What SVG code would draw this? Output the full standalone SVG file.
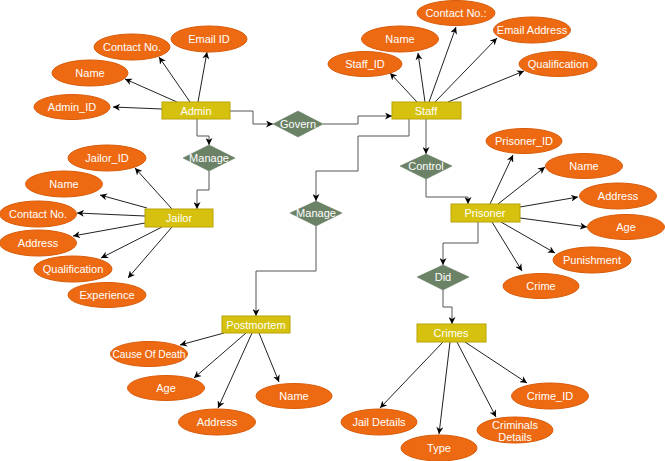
<svg xmlns="http://www.w3.org/2000/svg" width="665" height="461" viewBox="0 0 665 461">
<defs>
<marker id="ah" viewBox="0 0 10 10" refX="10" refY="5" markerWidth="7" markerHeight="7" orient="auto-start-reverse" markerUnits="userSpaceOnUse">
<path d="M0,0 L10,5 L0,10 L3,5 z" fill="#000"/>
</marker>
<style>
.e{fill:#EE6A12;stroke:#D85A08;stroke-width:1}
.r{fill:#D6C20E;stroke:#B9A406;stroke-width:1}
.d{fill:#6C8266;stroke:#5E7458;stroke-width:0.5}
.t{font-family:"Liberation Sans",Arial,sans-serif;font-size:11px;fill:#fff;text-anchor:middle;dominant-baseline:central}
.c line{stroke:#222;stroke-width:1;fill:none;marker-end:url(#ah)}
.c path{stroke:#555;stroke-width:1;fill:none;marker-end:url(#ah)}
</style>
</defs>
<rect width="665" height="461" fill="#fff"/>
<g class="c" id="connectors">
<line x1="162" y1="109" x2="113" y2="107"/>
<line x1="177" y1="102" x2="125" y2="79"/>
<line x1="190" y1="102" x2="159" y2="57"/>
<line x1="198" y1="102" x2="207" y2="52"/>
<path d="M230,111 H253 V124 H273"/>
<path d="M323,124 H358 V116 H392"/>
<path d="M197,119 V136 H209 V145"/>
<path d="M209,171 V190 H197 V209"/>
<line x1="417" y1="102" x2="390" y2="73"/>
<line x1="425" y1="102" x2="418" y2="53"/>
<line x1="429" y1="102" x2="456" y2="27"/>
<line x1="435" y1="102" x2="497" y2="38"/>
<line x1="448" y1="102" x2="524" y2="71"/>
<path d="M426,119 V154"/>
<path d="M409,119 V136 H358 V171 H316 V201"/>
<path d="M426,179 V197 H468 V204"/>
<path d="M316,226 V271 H256 V316"/>
<line x1="172" y1="209" x2="135" y2="168"/>
<line x1="147" y1="208" x2="100" y2="195"/>
<line x1="145" y1="216" x2="77" y2="213"/>
<line x1="145" y1="223" x2="73" y2="236"/>
<line x1="162" y1="227" x2="101" y2="258"/>
<line x1="172" y1="227" x2="128" y2="278"/>
<line x1="490" y1="204" x2="513" y2="155"/>
<line x1="498" y1="204" x2="545" y2="167"/>
<line x1="520" y1="207" x2="578" y2="197"/>
<line x1="520" y1="218" x2="587" y2="227"/>
<line x1="501" y1="222" x2="555" y2="253"/>
<line x1="492" y1="222" x2="522" y2="271"/>
<path d="M478,222 V243 H443 V265"/>
<path d="M443,290 V307 H452 V324"/>
<line x1="443" y1="342" x2="380" y2="408"/>
<line x1="450" y1="342" x2="439" y2="434"/>
<line x1="457" y1="342" x2="496" y2="417"/>
<line x1="465" y1="342" x2="527" y2="383"/>
<line x1="224" y1="333" x2="180" y2="345"/>
<line x1="246" y1="333" x2="194" y2="378"/>
<line x1="252" y1="333" x2="218" y2="408"/>
<line x1="259" y1="333" x2="279" y2="382"/>
</g>
<g id="admin"><rect class="r" x="162" y="102" width="68" height="17"/><text class="t" x="196" y="111">Admin</text></g>
<g id="admin_email"><ellipse class="e" cx="209" cy="39" rx="38" ry="13"/><text class="t" x="209" y="39">Email ID</text></g>
<g id="admin_contact"><ellipse class="e" cx="132" cy="47" rx="38" ry="13"/><text class="t" x="132" y="47">Contact No.</text></g>
<g id="admin_name"><ellipse class="e" cx="90" cy="73" rx="38" ry="13"/><text class="t" x="90" y="73">Name</text></g>
<g id="admin_id"><ellipse class="e" cx="72" cy="107" rx="38" ry="12.5"/><text class="t" x="72" y="107">Admin_ID</text></g>
<g id="govern"><polygon class="d" points="273,124 298,111 323,124 298,137"/><text class="t" x="298" y="124">Govern</text></g>
<g id="staff"><rect class="r" x="392" y="102" width="69" height="17"/><text class="t" x="426" y="111">Staff</text></g>
<g id="staff_contact"><ellipse class="e" cx="456" cy="13" rx="39" ry="12.5"/><text class="t" x="456" y="13">Contact No.:</text></g>
<g id="staff_name"><ellipse class="e" cx="400" cy="39" rx="38.5" ry="13"/><text class="t" x="400" y="39">Name</text></g>
<g id="staff_id"><ellipse class="e" cx="365" cy="64" rx="37" ry="12.5"/><text class="t" x="365" y="64">Staff_ID</text></g>
<g id="staff_email"><ellipse class="e" cx="532" cy="30" rx="38.5" ry="13"/><text class="t" x="532" y="30">Email Address</text></g>
<g id="staff_qual"><ellipse class="e" cx="558" cy="64" rx="39" ry="12.5"/><text class="t" x="558" y="64">Qualification</text></g>
<g id="manage1"><polygon class="d" points="183,158 209,145 235,158 209,171"/><text class="t" x="209" y="158">Manage</text></g>
<g id="jailor"><rect class="r" x="145" y="209" width="68" height="18"/><text class="t" x="179" y="218">Jailor</text></g>
<g id="jailor_id"><ellipse class="e" cx="107" cy="158" rx="39" ry="13"/><text class="t" x="107" y="158">Jailor_ID</text></g>
<g id="jailor_name"><ellipse class="e" cx="64" cy="184" rx="38.5" ry="13"/><text class="t" x="64" y="184">Name</text></g>
<g id="jailor_contact"><ellipse class="e" cx="38" cy="214" rx="38.5" ry="13"/><text class="t" x="38" y="214">Contact No.</text></g>
<g id="jailor_address"><ellipse class="e" cx="38" cy="243" rx="38.5" ry="13"/><text class="t" x="38" y="243">Address</text></g>
<g id="jailor_qual"><ellipse class="e" cx="73" cy="269" rx="39" ry="13"/><text class="t" x="73" y="269">Qualification</text></g>
<g id="jailor_exp"><ellipse class="e" cx="107" cy="295" rx="39" ry="12.5"/><text class="t" x="107" y="295">Experience</text></g>
<g id="control"><polygon class="d" points="400,166 426,154 452,166 426,179"/><text class="t" x="426" y="166">Control</text></g>
<g id="manage2"><polygon class="d" points="290,213 316,201 342,213 316,226"/><text class="t" x="316" y="213">Manage</text></g>
<g id="prisoner"><rect class="r" x="451" y="204" width="69" height="18"/><text class="t" x="485" y="213">Prisoner</text></g>
<g id="prisoner_id"><ellipse class="e" cx="524" cy="141" rx="38" ry="12.5"/><text class="t" x="524" y="141">Prisoner_ID</text></g>
<g id="prisoner_name"><ellipse class="e" cx="584" cy="166" rx="38.5" ry="12.5"/><text class="t" x="584" y="166">Name</text></g>
<g id="prisoner_address"><ellipse class="e" cx="618" cy="196" rx="38.5" ry="13"/><text class="t" x="618" y="196">Address</text></g>
<g id="prisoner_age"><ellipse class="e" cx="626" cy="227" rx="38.5" ry="12.5"/><text class="t" x="626" y="227">Age</text></g>
<g id="prisoner_punish"><ellipse class="e" cx="592" cy="260" rx="39" ry="13"/><text class="t" x="592" y="260">Punishment</text></g>
<g id="prisoner_crime"><ellipse class="e" cx="541" cy="286" rx="38" ry="12.5"/><text class="t" x="541" y="286">Crime</text></g>
<g id="did"><polygon class="d" points="417,277 443,265 469,277 443,290"/><text class="t" x="443" y="277">Did</text></g>
<g id="crimes"><rect class="r" x="417" y="324" width="69" height="18"/><text class="t" x="451" y="333">Crimes</text></g>
<g id="crimes_jail"><ellipse class="e" cx="379" cy="422" rx="38" ry="13"/><text class="t" x="379" y="422">Jail Details</text></g>
<g id="crimes_type"><ellipse class="e" cx="439" cy="448" rx="38" ry="13"/><text class="t" x="439" y="448">Type</text></g>
<g id="crimes_criminals"><ellipse class="e" cx="515" cy="430" rx="38" ry="13"/><text class="t" x="515" y="424.5">Criminals</text><text class="t" x="515" y="436.5">Details</text></g>
<g id="crimes_id"><ellipse class="e" cx="550" cy="396" rx="38.5" ry="13"/><text class="t" x="550" y="396">Crime_ID</text></g>
<g id="postmortem"><rect class="r" x="222" y="316" width="68" height="17"/><text class="t" x="256" y="324.5">Postmortem</text></g>
<g id="pm_cause"><ellipse class="e" cx="149" cy="354" rx="38.5" ry="12.5"/><text class="t" x="149" y="354" textLength="73" lengthAdjust="spacingAndGlyphs">Cause Of Death</text></g>
<g id="pm_age"><ellipse class="e" cx="166" cy="388" rx="38.5" ry="12.5"/><text class="t" x="166" y="388">Age</text></g>
<g id="pm_address"><ellipse class="e" cx="217" cy="422" rx="38.5" ry="13"/><text class="t" x="217" y="422">Address</text></g>
<g id="pm_name"><ellipse class="e" cx="294" cy="396" rx="38" ry="12.5"/><text class="t" x="294" y="396">Name</text></g>
</svg>
